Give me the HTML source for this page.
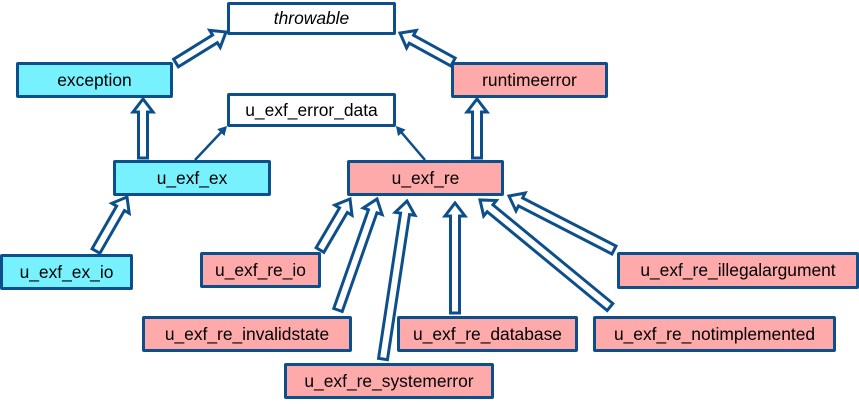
<!DOCTYPE html>
<html><head><meta charset="utf-8"><style>
html,body{margin:0;padding:0;background:#fff;width:859px;height:404px;overflow:hidden}
.b{position:absolute;box-sizing:border-box;border:3.5px solid #0d4f8b;border-radius:2px;display:flex;align-items:center;justify-content:center;font-family:"Liberation Sans",sans-serif;font-size:17.4px;color:#000}
.c{background:#77f1fd}.p{background:#ffaaaa}.w{background:#fff}
svg{position:absolute;left:0;top:0}
</style></head><body>
<svg id="s" width="859" height="404"></svg>
<div class="b w" style="left:227px;top:2px;width:169px;height:33px;font-style:italic">throwable</div>
<div class="b c" style="left:16px;top:62px;width:157px;height:36px">exception</div>
<div class="b p" style="left:451px;top:62px;width:157px;height:36px">runtimeerror</div>
<div class="b w" style="left:227px;top:93px;width:169px;height:34px">u_exf_error_data</div>
<div class="b c" style="left:113px;top:160px;width:158px;height:36px">u_exf_ex</div>
<div class="b p" style="left:347px;top:160px;width:157px;height:36px">u_exf_re</div>
<div class="b c" style="left:0px;top:254px;width:133px;height:36px">u_exf_ex_io</div>
<div class="b p" style="left:200px;top:252px;width:121px;height:36px">u_exf_re_io</div>
<div class="b p" style="left:617px;top:252px;width:242px;height:37px">u_exf_re_illegalargument</div>
<div class="b p" style="left:142px;top:316px;width:210px;height:36px">u_exf_re_invalidstate</div>
<div class="b p" style="left:397px;top:316px;width:181px;height:36px">u_exf_re_database</div>
<div class="b p" style="left:593px;top:316px;width:243px;height:36px">u_exf_re_notimplemented</div>
<div class="b p" style="left:284px;top:363px;width:210px;height:36px">u_exf_re_systemerror</div>
<script>
var s=document.getElementById('s'),h='';
function A(x1,y1,x2,y2){var dx=x2-x1,dy=y2-y1,L=Math.hypot(dx,dy),a=Math.atan2(dy,dx)*180/Math.PI;
var p=[[0,-4.5],[L-13,-4.5],[L-13,-10],[L,0],[L-13,10],[L-13,4.5],[0,4.5]].map(function(q){return q.join(',')}).join(' ');
h+='<polygon points="'+p+'" transform="translate('+x1+','+y1+') rotate('+a+')" fill="#fff" stroke="#0d4f8b" stroke-width="3" stroke-linejoin="miter"/>';}
function T(x1,y1,x2,y2){var dx=x2-x1,dy=y2-y1,L=Math.hypot(dx,dy),a=Math.atan2(dy,dx)*180/Math.PI;
h+='<g transform="translate('+x1+','+y1+') rotate('+a+')"><line x1="0" y1="0" x2="'+(L-6)+'" y2="0" stroke="#0d4f8b" stroke-width="2.5"/><polygon points="'+(L-9)+',-5 '+L+',0 '+(L-9)+',5" fill="#0d4f8b"/></g>';}
A(176,63,226,32);A(453,62,400,33);A(143,158,143,99);A(477,158,477,99);
A(96,251,127,197);A(320,250,350,199);A(338,310,377,199);A(383,359,407,201);
A(455,313,455,203);A(610,307,480,200);A(614,250,509,196);
T(195,160,227,126);T(425,160,396,126);
s.innerHTML=h;
</script>
</body></html>
